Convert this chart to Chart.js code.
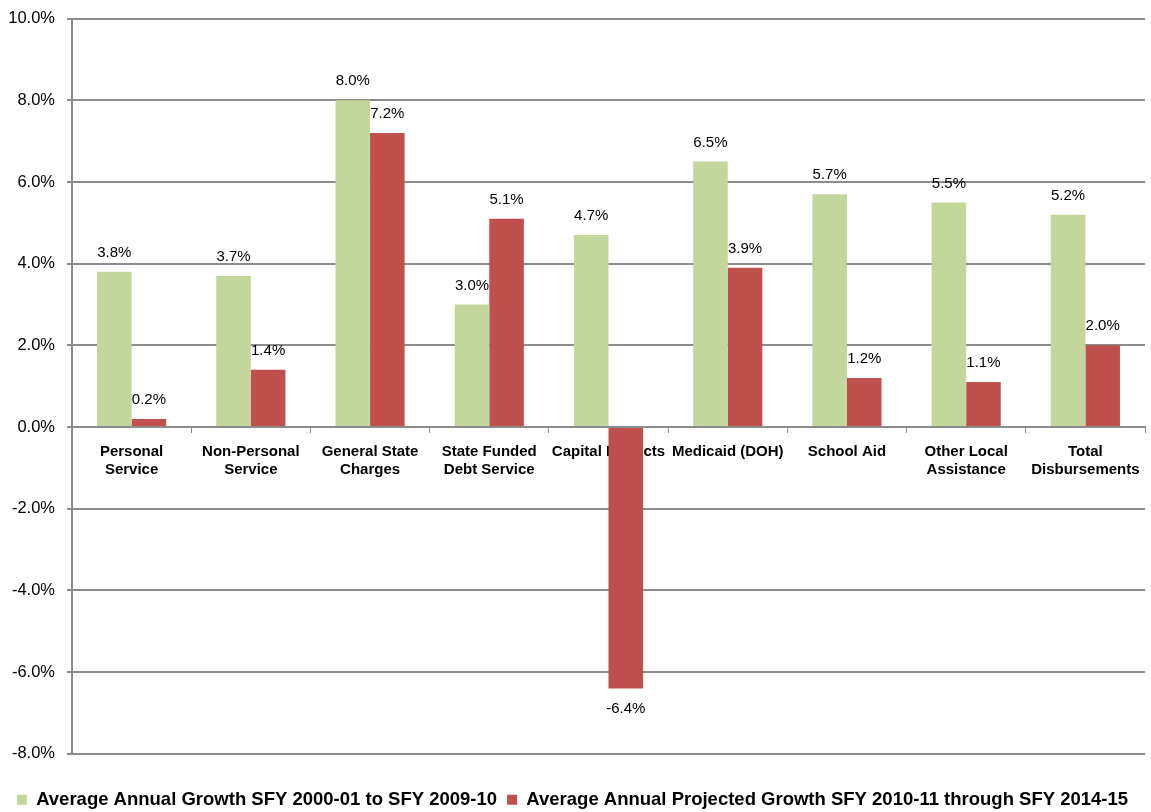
<!DOCTYPE html>
<html>
<head>
<meta charset="utf-8">
<script src="https://cdn.jsdelivr.net/npm/chart.js@4/dist/chart.umd.min.js"></script>
<style>
  html, body { margin: 0; padding: 0; background: #fff; }
  #wrap { width: 1151px; height: 812px; }
</style>
</head>
<body>
<div id="wrap"><canvas id="c" width="1151" height="812"></canvas></div>
<script>
// Spending categories (two-line labels)
const categories = [
  ['Personal', 'Service'],
  ['Non-Personal', 'Service'],
  ['General State', 'Charges'],
  ['State Funded', 'Debt Service'],
  'Capital Projects',
  'Medicaid (DOH)',
  'School Aid',
  ['Other Local', 'Assistance'],
  ['Total', 'Disbursements']
];

// Average annual growth, percent
const historicalGrowth = [3.8, 3.7, 8.0, 3.0, 4.7, 6.5, 5.7, 5.5, 5.2];
const projectedGrowth  = [0.2, 1.4, 7.2, 5.1, -6.4, 3.9, 1.2, 1.1, 2.0];

const seriesNames = [
  'Average Annual Growth SFY 2000-01 to SFY 2009-10',
  'Average Annual Projected Growth SFY 2010-11 through SFY 2014-15'
];

const yTicks = [-8, -6, -4, -2, 0, 2, 4, 6, 8, 10];

const FONT = '"Liberation Sans", Arial, sans-serif';
const GRID = '#8c8c8c';

// Value labels above positive bars and below negative ones
const valueLabels = {
  id: 'valueLabels',
  afterDatasetsDraw(chart) {
    const ctx = chart.ctx;
    ctx.save();
    ctx.font = '15px ' + FONT;
    ctx.fillStyle = '#000';
    ctx.textAlign = 'center';
    ctx.textBaseline = 'middle';
    chart.data.datasets.forEach((ds, i) => {
      const meta = chart.getDatasetMeta(i);
      meta.data.forEach((bar, j) => {
        const v = ds.data[j];
        const y = v >= 0 ? bar.y - 19 : bar.y + 20;
        ctx.fillText(v.toFixed(1) + '%', bar.x, y);
      });
    });
    ctx.restore();
  }
};

new Chart(document.getElementById('c'), {
  type: 'bar',
  data: {
    labels: categories,
    datasets: [
      { label: seriesNames[0], data: historicalGrowth, backgroundColor: '#c3d69b' },
      { label: seriesNames[1], data: projectedGrowth, backgroundColor: '#c0504d' }
    ]
  },
  options: {
    responsive: false,
    animation: false,
    devicePixelRatio: 1,
    layout: { padding: { top: 7, right: 6, left: 0, bottom: -7 } },
    datasets: { bar: { categoryPercentage: 0.58, barPercentage: 1.0 } },
    plugins: {
      tooltip: { enabled: false },
      legend: {
        position: 'bottom',
        title: {
          display: true,
          text: '',
          font: { size: 1 },
          padding: { top: 0, bottom: 25.5 }
        },
        labels: {
          color: '#000',
          font: { family: FONT, size: 18.5, weight: 'bold' },
          boxWidth: 10,
          boxHeight: 10,
          padding: 10
        }
      }
    },
    scales: {
      x: {
        position: { y: 0 },
        grid: {
          drawOnChartArea: false,
          drawTicks: true,
          tickLength: 5,
          color: GRID,
          lineWidth: 1
        },
        border: { color: GRID, width: 2 },
        ticks: {
          color: '#000',
          font: { family: FONT, size: 15, weight: 'bold' },
          padding: 11,
          maxRotation: 0,
          autoSkip: false
        }
      },
      y: {
        min: -8,
        max: 10,
        afterBuildTicks(scale) {
          scale.ticks = yTicks.map(v => ({ value: v }));
        },
        afterFit(scale) { scale.width = 72; },
        grid: {
          color: GRID,
          lineWidth: 2,
          tickLength: 5
        },
        border: { color: GRID, width: 2 },
        ticks: {
          color: '#000',
          font: { family: FONT, size: 16.5, lineHeight: 0.8 },
          padding: 12,
          callback: v => v.toFixed(1) + '%'
        }
      }
    }
  },
  plugins: [valueLabels]
});
</script>
</body>
</html>
